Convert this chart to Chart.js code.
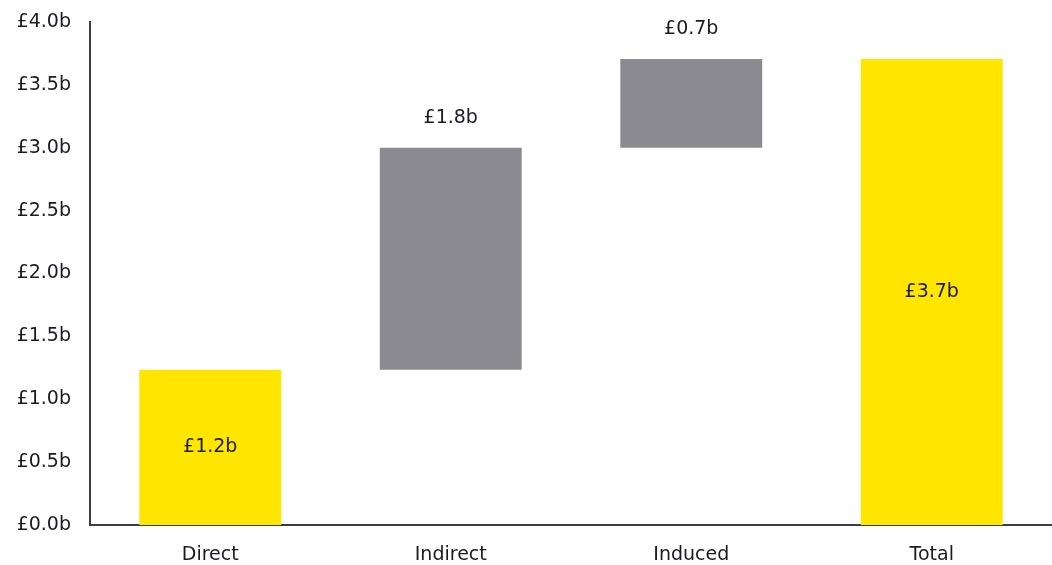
<!DOCTYPE html>
<html>
<head>
<meta charset="utf-8">
<script src="https://cdn.jsdelivr.net/npm/chart.js"></script>
<style>
  html, body { margin: 0; padding: 0; background: #fff; }
  #wrap { width: 1052px; height: 565px; }
</style>
</head>
<body>
<div id="wrap"><canvas id="chart"></canvas></div>
<script>
  const categories = ['Direct', 'Indirect', 'Induced', 'Total'];
  const barStarts = [0, 1.235, 3.0, 0];
  const barEnds = [1.235, 3.0, 3.705, 3.705];
  const valueLabels = ['£1.2b', '£1.8b', '£0.7b', '£3.7b'];
  const labelInside = [true, false, false, true];
  const barColors = ['#ffe600', '#8b8a90', '#8b8a90', '#ffe600'];

  const FONT = '"DejaVu Sans", sans-serif';

  // draw the value labels: centred inside the yellow bars, above the grey ones
  const valueLabelPlugin = {
    id: 'valueLabels',
    afterDatasetsDraw(chart) {
      const ctx = chart.ctx;
      const meta = chart.getDatasetMeta(0);
      ctx.save();
      ctx.font = '19px ' + FONT;
      ctx.fillStyle = '#1a1a24';
      ctx.textAlign = 'center';
      ctx.textBaseline = 'middle';
      meta.data.forEach((bar, i) => {
        const top = Math.min(bar.y, bar.base);
        const bottom = Math.max(bar.y, bar.base);
        const y = labelInside[i] ? (top + bottom) / 2 : top - 30;
        ctx.fillText(valueLabels[i], bar.x, y);
      });
      ctx.restore();
    }
  };

  new Chart(document.getElementById('chart'), {
    type: 'bar',
    data: {
      labels: categories,
      datasets: [{
        data: barStarts.map((s, i) => [s, barEnds[i]]),
        backgroundColor: barColors,
        borderWidth: 0,
        barPercentage: 0.59,
        categoryPercentage: 1
      }]
    },
    options: {
      responsive: true,
      maintainAspectRatio: false,
      animation: false,
      layout: { padding: { top: 22, right: 0, left: 0, bottom: 0 } },
      plugins: {
        legend: { display: false },
        tooltip: { enabled: false }
      },
      scales: {
        x: {
          grid: { display: false, drawTicks: false },
          border: { color: '#3c3c46', width: 2 },
          ticks: {
            color: '#1a1a24',
            font: { family: FONT, size: 19 },
            padding: 19
          },
          afterFit: s => { s.height = 40; }
        },
        y: {
          min: 0,
          max: 4,
          grid: { display: false, drawTicks: false },
          border: { color: '#3c3c46', width: 2 },
          ticks: {
            stepSize: 0.5,
            color: '#1a1a24',
            font: { family: FONT, size: 19 },
            padding: 19,
            callback: v => '£' + v.toFixed(1) + 'b'
          },
          afterFit: s => {
            s.width = 90;
            s.paddingTop = 0;
            s.paddingBottom = 0;
          }
        }
      }
    },
    plugins: [valueLabelPlugin]
  });
</script>
</body>
</html>
